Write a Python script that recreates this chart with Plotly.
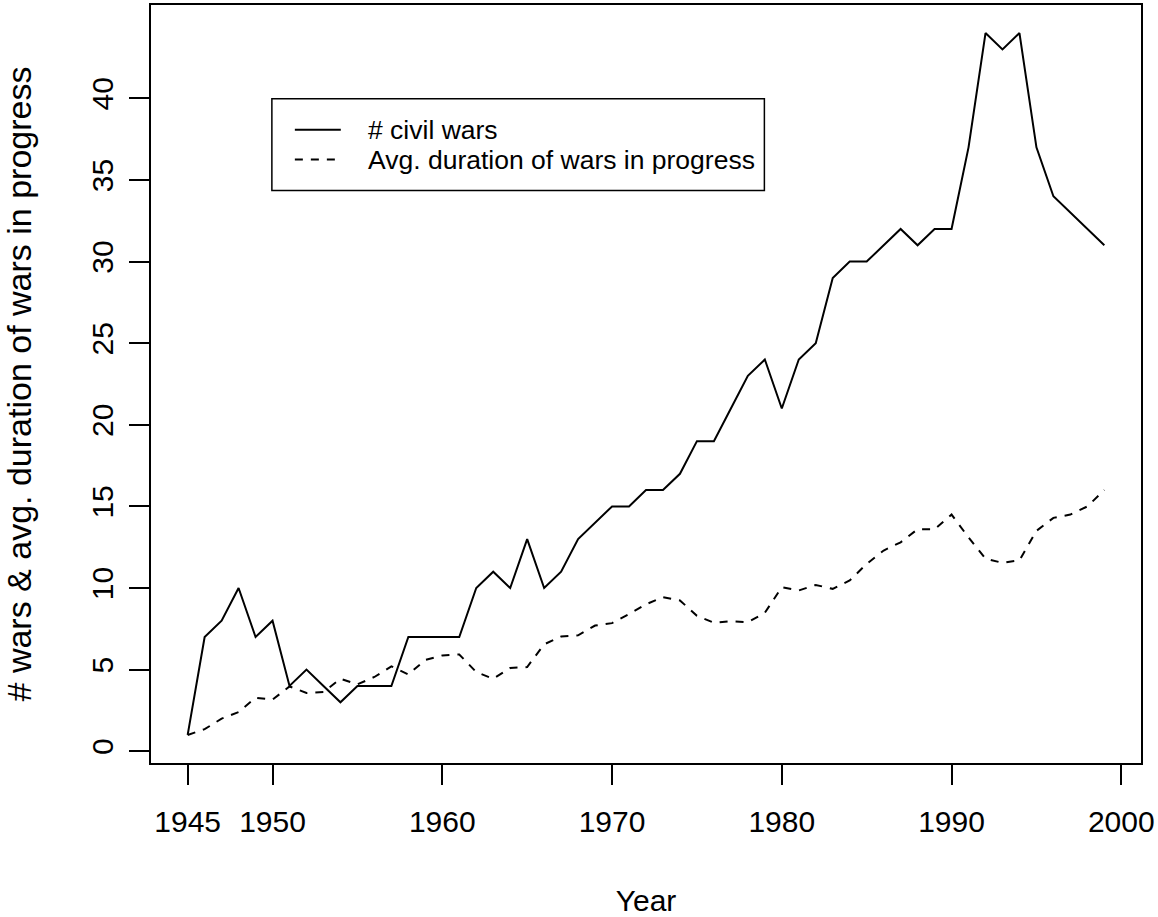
import plotly.graph_objects as go

years = list(range(1945, 2000))
civil_wars = [1, 7, 8, 10, 7, 8, 4, 5, 4, 3,
              4, 4, 4, 7, 7, 7, 7, 10, 11, 10,
              13, 10, 11, 13, 14, 15, 15, 16, 16, 17,
              19, 19, 21, 23, 24, 21, 24, 25, 29, 30,
              30, 31, 32, 31, 32, 32, 37, 44, 43, 44,
              37, 34, 33, 32, 31]
avg_duration = [1.0, 1.35, 2.0, 2.4, 3.28, 3.16, 3.97, 3.57, 3.63, 4.44,
                4.1, 4.55, 5.2, 4.7, 5.6, 5.87, 5.93, 4.85, 4.44, 5.1,
                5.16, 6.55, 7.03, 7.1, 7.7, 7.85, 8.4, 9.0, 9.44, 9.24,
                8.3, 7.87, 7.97, 7.91, 8.48, 10.05, 9.85, 10.19, 9.95, 10.46,
                11.48, 12.3, 12.8, 13.6, 13.6, 14.5, 13.1, 11.8, 11.54, 11.7,
                13.5, 14.3, 14.5, 15.0, 16.0]
x_ticks = [1945, 1950, 1960, 1970, 1980, 1990, 2000]
y_ticks = [0, 5, 10, 15, 20, 25, 30, 35, 40]
series_names = ["# civil wars", "Avg. duration of wars in progress"]

FONT = "Liberation Sans, Arial, Helvetica, sans-serif"
DASH = "8px,8px"

fig = go.Figure()
fig.add_trace(go.Scatter(x=years, y=civil_wars, mode="lines", name=series_names[0],
                         line=dict(color="black", width=2), showlegend=False))
fig.add_trace(go.Scatter(x=years, y=avg_duration, mode="lines", name=series_names[1],
                         line=dict(color="black", width=2, dash=DASH), showlegend=False))

# R-style legend box drawn in paper coordinates
L, R_, T, B = 151, 1142, 3, 763
px = lambda x: (x - L) / (R_ - L)
py = lambda y: (B - y) / (B - T)
shapes = [dict(type="rect", xref="paper", yref="paper",
               x0=px(272), x1=px(765), y0=py(189), y1=py(97),
               line=dict(color="black", width=1.5), fillcolor="white", layer="above")]
annotations = []
rows = [128, 158]
dashes = ["solid", DASH]
for name, yrow, d in zip(series_names, rows, dashes):
    shapes.append(dict(type="line", xref="paper", yref="paper",
                       x0=px(295), x1=px(341), y0=py(yrow), y1=py(yrow),
                       line=dict(color="black", width=2, dash=d), layer="above"))
    annotations.append(dict(text=name, xref="paper", yref="paper", x=px(366), y=py(yrow),
                            xanchor="left", yanchor="middle", showarrow=False,
                            font=dict(size=26.5, color="black", family=FONT)))

fig.update_layout(
    width=1158, height=917,
    margin=dict(l=L, r=1158 - R_, t=T, b=917 - B),
    plot_bgcolor="white", paper_bgcolor="white",
    font=dict(family=FONT, size=30, color="black"),
    showlegend=False,
    shapes=shapes, annotations=annotations,
    xaxis=dict(range=[1942.84, 2001.16], tickvals=x_ticks,
               ticks="outside", ticklen=20, tickwidth=2, tickcolor="black",
               showline=True, linecolor="black", linewidth=2, mirror=True,
               showgrid=False, zeroline=False,
               ticklabelstandoff=11,
               title=dict(text="Year", standoff=54, font=dict(size=30))),
    yaxis=dict(range=[-0.72, 45.72], tickvals=y_ticks, tickangle=-90,
               ticks="outside", ticklen=20, tickwidth=2, tickcolor="black",
               showline=True, linecolor="black", linewidth=2, mirror=True,
               showgrid=False, zeroline=False,
               ticklabelstandoff=4,
               title=dict(text="# wars & avg. duration of wars in progress",
                          standoff=50, font=dict(size=34))),
)

fig.write_html("out.html", config={"displayModeBar": False},
               post_script="document.body.style.margin='0px';document.body.style.padding='0px';")
